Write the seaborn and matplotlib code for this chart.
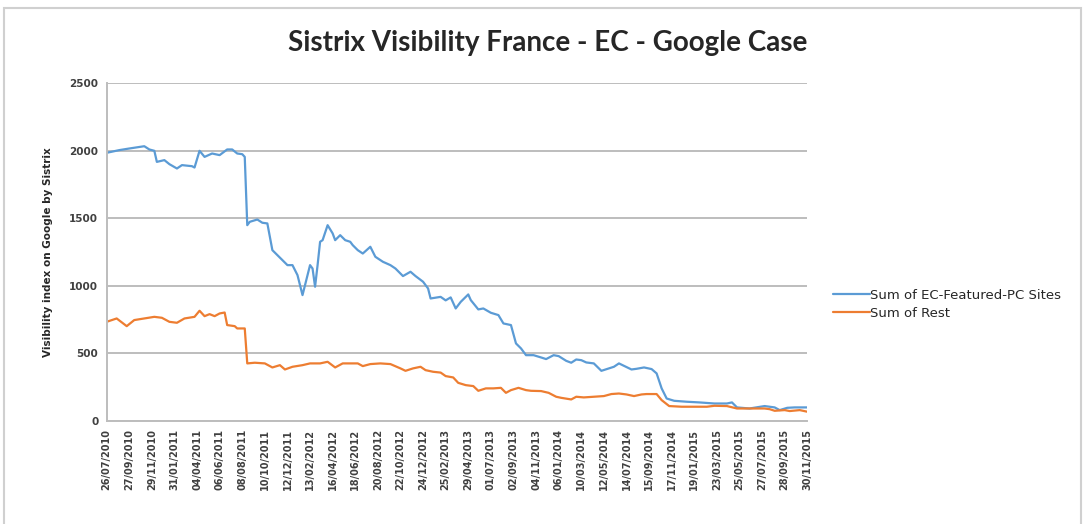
import pandas as pd
import seaborn as sns
import matplotlib.pyplot as plt
import matplotlib.dates as mdates
from matplotlib.patches import Rectangle

# weekly sistrix data as (week index from 26/07/2010, value)
start = pd.Timestamp("2010-07-26")

ec_weeks = [0, 5, 9, 15, 17, 19, 20, 23, 25, 28, 30, 34, 35, 37, 39, 42, 45, 48, 50, 52,
            54, 55, 56, 57, 60, 62, 64, 65, 66, 68, 70, 72, 74, 76, 78, 81, 82, 83, 84, 85,
            86, 88, 90, 91, 93, 95, 97, 98, 100, 102, 105, 107, 110, 113, 115, 118, 121, 123, 126, 128,
            129, 133, 135, 137, 139, 141, 144, 145, 148, 150, 153, 156, 158, 161, 163, 165, 167, 170, 173, 175,
            178, 180, 183, 185, 187, 189, 191, 194, 197, 200, 202, 204, 206, 209, 211, 214, 217, 219, 221, 223,
            226, 231, 236, 242, 247, 249, 251, 256, 262, 266, 268, 271, 274, 279]
ec_values = [1985, 2005, 2017, 2034, 2010, 2000, 1918, 1931, 1901, 1869, 1894, 1886, 1876, 2000, 1955, 1980, 1968, 2010, 2010, 1980,
             1975, 1955, 1449, 1474, 1491, 1467, 1462, 1363, 1264, 1227, 1190, 1153, 1153, 1079, 931, 1153, 1128, 993, 1153, 1326,
             1338, 1449, 1388, 1338, 1375, 1338, 1326, 1301, 1264, 1239, 1289, 1215, 1178, 1153, 1128, 1072, 1104, 1072, 1030, 980,
             906, 918, 892, 914, 832, 881, 936, 894, 825, 832, 800, 783, 721, 709, 573, 536, 486, 486, 469, 457,
             486, 479, 444, 430, 454, 449, 432, 425, 370, 388, 400, 425, 407, 380, 385, 395, 383, 351, 240, 165,
             148, 141, 136, 128, 128, 136, 99, 91, 109, 99, 79, 96, 99, 99]

rest_weeks = [0, 4, 8, 11, 15, 19, 22, 25, 28, 31, 35, 37, 39, 41, 43, 45, 47, 48, 51, 52,
              55, 56, 59, 63, 66, 69, 71, 74, 78, 81, 85, 88, 91, 94, 100, 102, 105, 109, 113, 117,
              119, 122, 125, 127, 130, 133, 135, 138, 140, 143, 146, 148, 151, 154, 157, 159, 161, 164, 167, 169,
              173, 176, 179, 181, 185, 187, 190, 194, 198, 201, 204, 207, 210, 213, 215, 219, 221, 224, 229, 234,
              239, 242, 247, 251, 256, 262, 264, 266, 270, 272, 276, 279]
rest_values = [733, 758, 701, 746, 758, 770, 763, 733, 726, 758, 770, 815, 775, 790, 775, 795, 802, 709, 701, 684,
               684, 425, 430, 425, 395, 412, 380, 400, 412, 425, 425, 437, 395, 425, 425, 405, 420, 425, 420, 388,
               370, 388, 400, 375, 363, 357, 331, 321, 281, 264, 257, 222, 240, 240, 244, 207, 227, 244, 227, 222,
               220, 207, 178, 170, 158, 178, 173, 178, 183, 198, 202, 195, 183, 195, 198, 198, 153, 109, 104, 104,
               104, 111, 109, 91, 91, 91, 86, 74, 79, 72, 79, 67]

series_names = ["Sum of EC-Featured-PC Sites", "Sum of Rest"]
colors = ["#5B9BD5", "#ED7D31"]

# %%
ec = pd.DataFrame({"date": start + pd.to_timedelta([w * 7 for w in ec_weeks], unit="D"),
                   "value": ec_values, "series": series_names[0]})
rest = pd.DataFrame({"date": start + pd.to_timedelta([w * 7 for w in rest_weeks], unit="D"),
                     "value": rest_values, "series": series_names[1]})
df = pd.concat([ec, rest], ignore_index=True)

# %%
sns.set_style("white")
plt.rcParams['font.family'] = ['DejaVu Sans']

fig = plt.figure(figsize=(10.88, 5.24), dpi=100)
ax = fig.add_axes([0.098, 0.197, 0.644, 0.644])

sns.lineplot(data=df, x="date", y="value", hue="series", palette=colors, linewidth=1.6, ax=ax)

end = start + pd.Timedelta(days=279 * 7)
ticks = pd.date_range(start, end, freq="63D")
ax.set_xlim(start, end)
ax.set_xticks(ticks)
ax.xaxis.set_major_formatter(mdates.DateFormatter("%d/%m/%Y"))
plt.setp(ax.get_xticklabels(), rotation=90, fontsize=7, fontweight="bold", color="#404040")

ax.set_ylim(0, 2500)
ax.set_yticks(range(0, 2501, 500))
plt.setp(ax.get_yticklabels(), fontsize=7.5, fontweight="bold", color="#404040")
ax.tick_params(axis="both", length=0, pad=6)

ax.grid(axis="y", color="#BDBDBD", linewidth=1.4)
ax.set_axisbelow(True)
for s in ["top", "right"]:
    ax.spines[s].set_visible(False)
for s in ["left", "bottom"]:
    ax.spines[s].set_color("#BDBDBD")
    ax.spines[s].set_linewidth(1.4)

ax.set_xlabel("")
ax.set_ylabel("Visibility index on Google by Sistrix", fontsize=7.5, fontweight="bold", labelpad=12)

sns.move_legend(ax, "center left", bbox_to_anchor=(1.02, 0.345), title=None, frameon=False,
                fontsize=9.5, handlelength=2.8, handletextpad=0.0, labelspacing=0.35)

fig.text(0.503, 0.917, "Sistrix Visibility France - EC - Google Case", ha="center", va="center",
         fontsize=20, fontweight="bold", family=["Lato", "DejaVu Sans"])

# light frame around the chart area
fig.patches.append(Rectangle((0.004, -0.05), 0.99, 1.035, transform=fig.transFigure,
                             fill=False, edgecolor="#D0D0D0", linewidth=1.5))

fig.savefig("out.png", dpi=100)
